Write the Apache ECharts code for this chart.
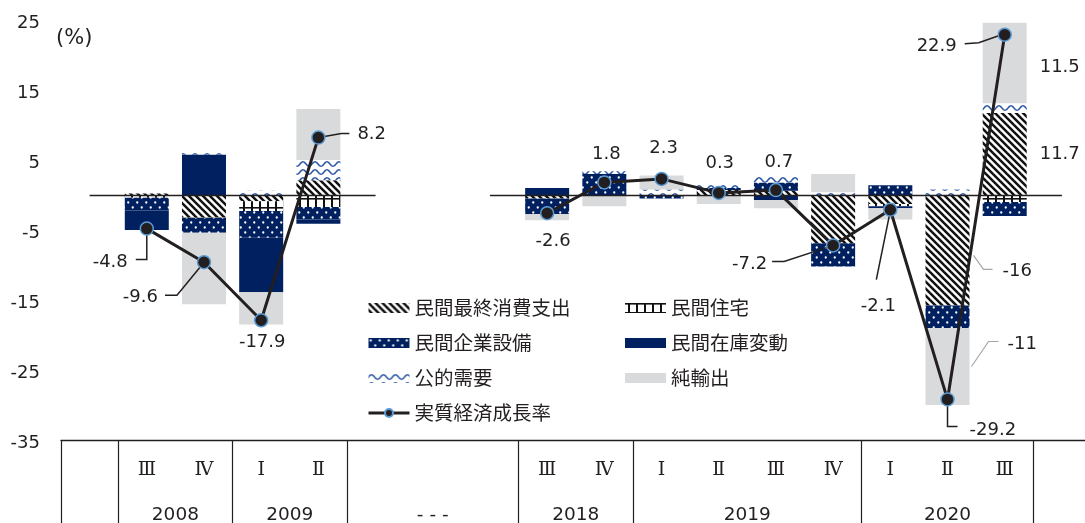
<!DOCTYPE html>
<html>
<head>
<meta charset="utf-8">
<script src="https://cdn.jsdelivr.net/npm/echarts@6.0.0/dist/echarts.min.js"></script>
<style>
html, body { margin: 0; padding: 0; background: #fff; }
#chart { width: 1085px; height: 523px; }
</style>
</head>
<body>
<div id="chart"></div>
<script>
// 18 slots on the x axis: empty, 2008Ⅲ..2009Ⅱ, three gap slots, 2018Ⅲ..2020Ⅲ, empty
var quarterLabels = ['', 'Ⅲ', 'Ⅳ', 'Ⅰ', 'Ⅱ', '', '', '', 'Ⅲ', 'Ⅳ', 'Ⅰ', 'Ⅱ', 'Ⅲ', 'Ⅳ', 'Ⅰ', 'Ⅱ', 'Ⅲ', ''];
var yearLabels = ['2008', '2009', '- - -', '2018', '2019', '2020'];
var yearCenters = [2, 4, 6.5, 9, 12, 15.5];
var yearDividers = [0, 1, 3, 5, 8, 10, 14, 17];
var yTicks = [-35, -25, -15, -5, 5, 15, 25];

// contributions (% points), null = empty slot
var consumption  = [null, 0.2, -3.2, -0.9, 2.1, null, null, null, -0.5, 0, 0, 0.7, 0.6, -6.9, -1.3, -15.8, 11.7, null];
var housing      = [null, -0.4, -0.1, -1.4, -1.7, null, null, null, 0, 0, 0, 0, 0, 0, -0.3, 0, -1.0, null];
var investment   = [null, -1.8, -2.1, -3.8, -1.8, null, null, null, -2.2, 3.0, -0.5, 0.3, 1.2, -3.3, 1.4, -3.2, -2.0, null];
var inventory    = [null, -2.8, 5.8, -7.8, -0.6, null, null, null, 1.0, 0, 0, 0, -0.7, 0, -0.3, 0, 0, null];
var publicDemand = [null, 0, 0.2, 0.6, 2.9, null, null, null, 0, 0.4, 0.8, 0.6, 0.8, 0.4, 0, 0.8, 1.4, null];
var netExports   = [null, 0, -10.2, -4.6, 7.3, null, null, null, -0.9, -1.6, 2.0, -1.3, -1.2, 2.6, -1.6, -11.0, 11.5, null];
var growth       = [null, -4.8, -9.6, -17.9, 8.2, null, null, null, -2.6, 1.8, 2.3, 0.3, 0.7, -7.2, -2.1, -29.2, 22.9, null];

// zero rule runs from slot to slot, broken over the gap
var zeroRuns = [[0, 5], [7, 17]];

var TEXT = '#231f20';
var NAVY = '#002060';
var LATIN = 'DejaVu Sans';
var CJK = '"Noto Sans CJK JP"';
var BAR_W = 44;

// label placement, offsets from the marker centre
var growthSpots = {
  1: { dx: -19, dy: 34, align: 'right', line: [[0, 6], [0, 31], [-11, 31]] },
  2: { dx: -46, dy: 35, align: 'right', line: [[-4, 5], [-27, 33], [-39, 33]] },
  3: { dx: 1, dy: 22 },
  4: { dx: 39, dy: -3, align: 'left', line: [[6, -1], [23, -4], [31, -4]] },
  8: { dx: 6, dy: 28 },
  9: { dx: 2, dy: -28 },
  10: { dx: 2, dy: -31 },
  11: { dx: 1, dy: -30 },
  12: { dx: 3, dy: -28 },
  13: { dx: -66, dy: 19, align: 'right', line: [[-6, 2], [-49, 16], [-61, 16]] },
  14: { dx: -12, dy: 97, line: [[-1, 6], [-14, 70]] },
  15: { dx: 22, dy: 31, align: 'left', line: [[0, 6], [0, 27], [10, 27]] },
  16: { dx: -48, dy: 12, align: 'right', line: [[-6, 1], [-26, 8], [-40, 9]] }
};
// segment labels, offsets from the bar's right edge / segment middle
var consumptionSpots = {
  15: { digits: 0, dx: 33, dy: 21, line: [[4, 5], [14, 19], [23, 19]] },
  16: { digits: 1, dx: 13, dy: 0 }
};
var netExportSpots = {
  15: { digits: 0, dx: 38, dy: -22, line: [[2, 0], [19, -25], [29, -25]] },
  16: { digits: 1, dx: 13, dy: 4 }
};

function makeTile(w, h, draw) {
  var c = document.createElement('canvas');
  c.width = w;
  c.height = h;
  draw(c.getContext('2d'), w, h);
  return { image: c, repeat: 'repeat' };
}

var stripeFill = makeTile(7, 7, function (ctx, w, h) {
  ctx.fillStyle = '#fff';
  ctx.fillRect(0, 0, w, h);
  ctx.strokeStyle = '#111';
  ctx.lineWidth = 2.5;
  for (var k = -1; k <= 1; k++) {
    ctx.beginPath();
    ctx.moveTo(k * w - 1, -1);
    ctx.lineTo(k * w + w + 1, h + 1);
    ctx.stroke();
  }
});
var gridFill = makeTile(8, 9, function (ctx, w, h) {
  ctx.fillStyle = '#fff';
  ctx.fillRect(0, 0, w, h);
  ctx.fillStyle = '#111';
  ctx.fillRect(3, 0, 2, h);
  ctx.fillRect(0, 0, w, 1.6);
});
var dotFill = makeTile(9, 10, function (ctx, w, h) {
  ctx.fillStyle = NAVY;
  ctx.fillRect(0, 0, w, h);
  ctx.fillStyle = '#fff';
  [[2.25, 2.5], [6.75, 7.5]].forEach(function (p) {
    ctx.beginPath();
    ctx.arc(p[0], p[1], 1.15, 0, Math.PI * 2);
    ctx.fill();
  });
});
var waveFill = makeTile(12, 8, function (ctx, w, h) {
  ctx.fillStyle = '#fff';
  ctx.fillRect(0, 0, w, h);
  ctx.strokeStyle = '#2b56a3';
  ctx.lineWidth = 1.5;
  ctx.beginPath();
  for (var x = -1; x <= w + 1; x += 0.5) {
    var y = 4 - 2.2 * Math.sin((2 * Math.PI * x) / w);
    if (x === -1) ctx.moveTo(x, y); else ctx.lineTo(x, y);
  }
  ctx.stroke();
});

function spotLayout(spots, fromCentre) {
  return function (p) {
    var s = spots[p.dataIndex];
    if (!s) return {};
    var r = p.rect;
    var ax = fromCentre ? r.x + r.width / 2 : r.x + r.width;
    var ay = r.y + r.height / 2;
    return {
      x: ax + s.dx,
      y: ay + s.dy,
      align: s.align || (fromCentre ? 'center' : 'left'),
      verticalAlign: 'middle'
    };
  };
}

var labelText = { fontFamily: LATIN, fontSize: 18, color: TEXT };

function barSeries(name, values, fill, spots) {
  spots = spots || {};
  return {
    name: name,
    type: 'bar',
    stack: 'gdp',
    barWidth: BAR_W,
    z: 2,
    silent: true,
    itemStyle: { color: fill },
    label: Object.assign({ show: false }, labelText),
    labelLayout: spotLayout(spots, false),
    data: values.map(function (v, i) {
      if (v === null) return '-';
      var s = spots[i];
      if (!s) return v;
      return {
        value: v,
        label: { show: true, formatter: function (p) { return p.value.toFixed(s.digits); } }
      };
    })
  };
}

var stackOrder = [consumption, housing, investment, inventory, publicDemand, netExports];

var legendBase = {
  orient: 'vertical', itemWidth: 41, itemHeight: 10, itemGap: 15, padding: 0,
  selectedMode: false,
  textStyle: { fontFamily: CJK, fontSize: 19.5, color: TEXT, lineHeight: 20 }
};

var chart = echarts.init(document.getElementById('chart'));
chart.setOption({
  animation: false,
  title: {
    text: '(%)',
    left: 56,
    top: 28,
    padding: 0,
    textStyle: { fontFamily: LATIN, fontSize: 21, fontWeight: 'normal', color: TEXT }
  },
  grid: { left: 61, top: 20, width: 1029.5, bottom: 83, outerBoundsMode: 'none', containLabel: false },
  legend: [
    Object.assign({}, legendBase, {
      left: 367, top: 298,
      data: [
        { name: '民間最終消費支出', icon: 'rect' },
        { name: '民間企業設備', icon: 'rect' },
        { name: '公的需要', icon: 'rect' },
        { name: '実質経済成長率', lineStyle: { width: 3 } }
      ]
    }),
    Object.assign({}, legendBase, {
      left: 625, top: 298,
      data: [
        { name: '民間住宅', icon: 'rect' },
        { name: '民間在庫変動', icon: 'rect' },
        { name: '純輸出', icon: 'rect' }
      ]
    })
  ],
  xAxis: [
    {
      type: 'category',
      data: quarterLabels.map(function (q, i) { return 'slot' + i; }),
      axisLine: { onZero: false, lineStyle: { color: TEXT, width: 1.3 } },
      axisTick: { show: false },
      axisLabel: {
        interval: 0,
        margin: 21,
        fontFamily: '"DejaVu Serif"',
        fontSize: 19,
        color: TEXT,
        formatter: function (v, i) { return quarterLabels[i]; }
      }
    },
    {
      type: 'value',
      position: 'bottom',
      min: 0,
      max: 18,
      axisLine: { show: false, onZero: false },
      splitLine: { show: false },
      axisTick: {
        show: true,
        length: 85,
        customValues: yearDividers,
        lineStyle: { color: TEXT, width: 1.2 }
      },
      axisLabel: {
        margin: 66,
        customValues: yearCenters,
        fontFamily: LATIN,
        fontSize: 18.5,
        color: TEXT,
        formatter: function (v) { return yearLabels[yearCenters.indexOf(v)]; }
      }
    }
  ],
  yAxis: {
    type: 'value',
    min: -35,
    max: 25,
    interval: 10,
    axisLine: { show: false },
    axisTick: { show: false },
    splitLine: { show: false },
    axisLabel: {
      margin: 21,
      customValues: yTicks,
      verticalAlign: 'top',
      lineHeight: 7,
      fontFamily: LATIN,
      fontSize: 18,
      color: TEXT
    }
  },
  series: [
    barSeries('民間最終消費支出', consumption, stripeFill, consumptionSpots),
    barSeries('民間住宅', housing, gridFill),
    barSeries('民間企業設備', investment, dotFill),
    barSeries('民間在庫変動', inventory, NAVY),
    barSeries('公的需要', publicDemand, waveFill),
    barSeries('純輸出', netExports, '#d9dadb', netExportSpots),
    {
      name: '実質経済成長率',
      type: 'line',
      z: 5,
      silent: true,
      symbol: 'circle',
      symbolSize: 13,
      lineStyle: { color: TEXT, width: 3 },
      itemStyle: { color: TEXT, borderColor: '#5b9bd5', borderWidth: 1.5 },
      label: Object.assign({ show: true }, labelText),
      labelLayout: spotLayout(growthSpots, true),
      data: growth.map(function (v) { return v === null ? '-' : v; }),
      markLine: {
        silent: true,
        symbol: 'none',
        label: { show: false },
        lineStyle: { color: TEXT, width: 1.3, type: 'solid' },
        data: zeroRuns.map(function (run) {
          return [{ xAxis: run[0], yAxis: 0 }, { xAxis: run[1], yAxis: 0 }];
        })
      }
    }
  ]
});

// leader lines, anchored to pixel positions from the chart's own scales
function toPx(i, v) {
  return chart.convertToPixel({ xAxisIndex: 0, yAxisIndex: 0 }, [i, v]);
}
function segmentMiddle(seriesPos, i) {
  var v = stackOrder[seriesPos][i];
  var base = 0;
  for (var k = 0; k < seriesPos; k++) {
    var w = stackOrder[k][i];
    if (w && (w > 0) === (v > 0)) base += w;
  }
  return base + v / 2;
}
function guide(anchor, pts, color, width) {
  return {
    type: 'polyline',
    silent: true,
    z: 4,
    shape: { points: pts.map(function (pt) { return [anchor[0] + pt[0], anchor[1] + pt[1]]; }) },
    style: { stroke: color, lineWidth: width, fill: null }
  };
}
var guides = [];
Object.keys(growthSpots).forEach(function (k) {
  var s = growthSpots[k];
  if (s.line) guides.push(guide(toPx(+k, growth[k]), s.line, TEXT, 1.5));
});
[[0, consumptionSpots], [5, netExportSpots]].forEach(function (entry) {
  Object.keys(entry[1]).forEach(function (k) {
    var s = entry[1][k];
    if (!s.line) return;
    var c = toPx(+k, segmentMiddle(entry[0], +k));
    guides.push(guide([c[0] + BAR_W / 2, c[1]], s.line, '#a6a6a6', 1.2));
  });
});
chart.setOption({ graphic: guides });
</script>
</body>
</html>
